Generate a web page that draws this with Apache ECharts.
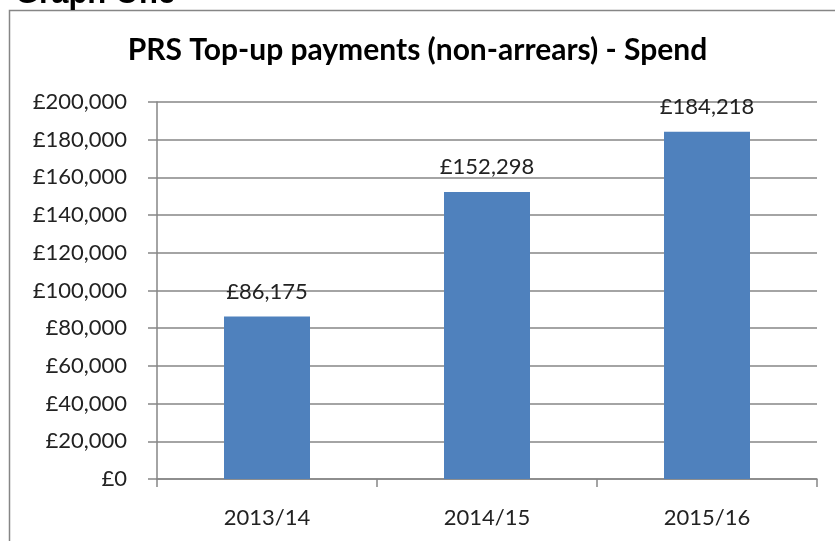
<!DOCTYPE html>
<html>
<head>
<meta charset="utf-8">
<script src="https://cdn.jsdelivr.net/npm/echarts@6/dist/echarts.min.js"></script>
<style>
  html, body { margin: 0; padding: 0; background: #fff; }
  #chart { width: 835px; height: 541px; }
</style>
</head>
<body>
<div id="chart"></div>
<script>
// values
var years = ['2013/14', '2014/15', '2015/16'];
var spend = [86175, 152298, 184218];

var myChart = echarts.init(document.getElementById('chart'));

function pounds(v) {
  return '£' + v.toString().replace(/\B(?=(\d{3})+(?!\d))/g, ',');
}

var option = {
  animation: false,
  textStyle: { fontFamily: 'Lato' },
  title: {
    text: 'PRS Top-up payments (non-arrears) - Spend',
    left: 'center',
    top: 30,
    textStyle: { fontFamily: 'Lato', fontWeight: 'bold', fontSize: 30, color: '#000' }
  },
  graphic: [
    {
      type: 'rect',
      shape: { x: 9.5, y: 10.5, width: 840, height: 540 },
      style: { fill: null, stroke: '#868686', lineWidth: 1.5 }
    },
    {
      // heading above the chart, cut off by the top edge
      type: 'text',
      left: 15, top: -21,
      style: { text: 'Graph One', font: 'bold 31px "Liberation Sans"', fill: '#000' }
    }
  ],
  grid: { left: 157, right: 18, top: 102, bottom: 62 },
  xAxis: {
    type: 'category',
    data: years,
    axisLine: { lineStyle: { color: '#868686', width: 1.5 } },
    axisTick: { show: true, length: 8, lineStyle: { color: '#868686', width: 1.5 } },
    axisLabel: { color: '#222', fontSize: 22, margin: 28 }
  },
  yAxis: {
    type: 'value',
    min: 0, max: 200000, interval: 20000,
    axisLine: { show: true, lineStyle: { color: '#868686', width: 1.5 } },
    axisTick: { show: true, length: 9, lineStyle: { color: '#868686', width: 1.5 } },
    splitLine: { lineStyle: { color: '#868686', width: 1.5 } },
    axisLabel: { color: '#222', fontSize: 22, margin: 30, formatter: pounds }
  },
  series: [{
    type: 'bar',
    data: spend,
    barWidth: 86,
    itemStyle: { color: '#4F81BD' },
    label: {
      show: true,
      position: 'top',
      distance: 14,
      color: '#222',
      fontSize: 22,
      fontFamily: 'Lato',
      formatter: function (p) { return pounds(p.value); }
    }
  }]
};

myChart.setOption(option);
</script>
</body>
</html>
